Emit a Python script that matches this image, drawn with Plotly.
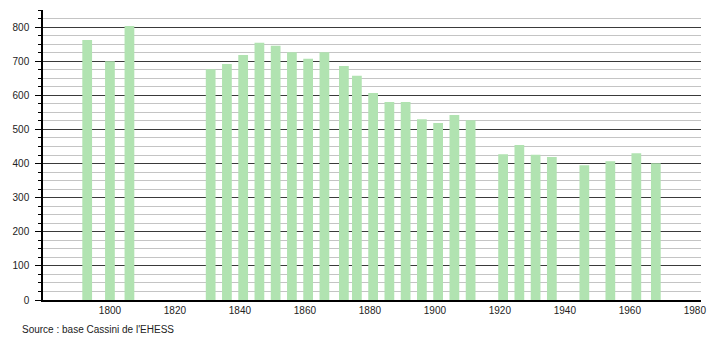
import plotly.graph_objects as go

years = [1793, 1800, 1806, 1831, 1836, 1841, 1846, 1851, 1856, 1861, 1866, 1872,
         1876, 1881, 1886, 1891, 1896, 1901, 1906, 1911, 1921, 1926, 1931, 1936,
         1946, 1954, 1962, 1968]
population = [762, 700, 803, 676, 692, 718, 754, 745, 726, 707, 726, 686,
              657, 607, 580, 580, 530, 519, 542, 527, 427, 454, 426, 419,
              395, 407, 430, 401]
x_ticks = [1800, 1820, 1840, 1860, 1880, 1900, 1920, 1940, 1960, 1980]
y_ticks = [0, 100, 200, 300, 400, 500, 600, 700, 800]
source_text = "Source : base Cassini de l'EHESS"

fig = go.Figure()
fig.add_trace(go.Bar(
    x=years, y=population, width=3,
    marker=dict(color="#b1e3b1", line=dict(width=0)),
    hoverinfo="x+y",
))

font = dict(family="Liberation Sans, Arial, sans-serif", size=10, color="#222222")

fig.update_layout(
    width=710, height=340,
    margin=dict(l=43, r=9, t=10, b=40),
    paper_bgcolor="white", plot_bgcolor="white",
    showlegend=False,
    font=font,
    xaxis=dict(
        range=[1779.4, 1981.9],
        tickvals=x_ticks, ticktext=[str(v) for v in x_ticks],
        showgrid=False, zeroline=False, automargin=False,
        showline=True, linecolor="#000000", linewidth=1.5,
        ticks="", tickfont=font,
    ),
    yaxis=dict(
        range=[0, 850],
        tickvals=y_ticks, automargin=False,
        showgrid=True, gridcolor="#3a3a3a", gridwidth=1,
        zeroline=False,
        showline=True, linecolor="#000000", linewidth=1.5,
        ticks="outside", ticklen=6, tickcolor="#000000", tickwidth=1,
        tickfont=font, ticklabelstandoff=4,
        minor=dict(dtick=25, tick0=0, showgrid=True, gridcolor="#c4c4c4",
                   gridwidth=1, ticks="outside", ticklen=3, tickcolor="#000000"),
    ),
    annotations=[dict(
        text=source_text, xref="paper", yref="paper",
        x=-23 / 658, y=-29 / 290, xanchor="left", yanchor="middle",
        showarrow=False, font=font,
    )],
)

fig.write_html("out.html")
